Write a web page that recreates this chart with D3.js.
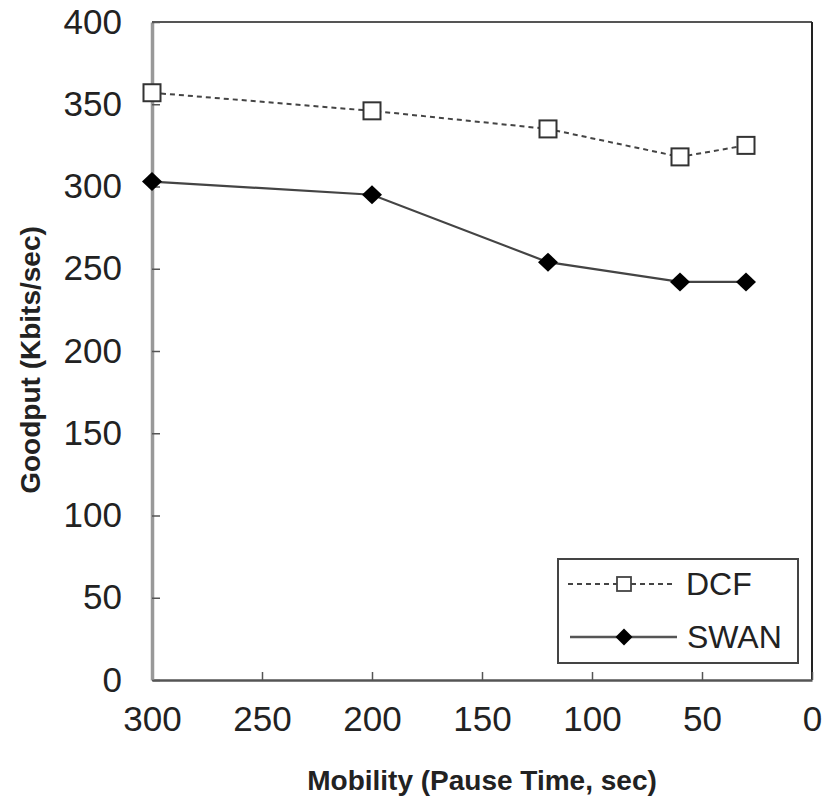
<!DOCTYPE html>
<html><head><meta charset="utf-8">
<script src="https://cdn.jsdelivr.net/npm/d3@7"></script>
<style>body{margin:0;background:#fff}svg{display:block}</style>
</head><body><svg id="c" width="827" height="799"></svg>
<script>
const pauseTimes = [300, 200, 120, 60, 30];
const dcfValues = [357, 346, 335, 318, 325];
const swanValues = [303, 295, 254, 242, 242];
const xTicks = [300, 250, 200, 150, 100, 50, 0];
const yTicks = [0, 50, 100, 150, 200, 250, 300, 350, 400];
const seriesNames = ["DCF", "SWAN"];

const svg = d3.select("#c");
const L = 152, R = 812, T = 22, B = 680;
const x = d3.scaleLinear().domain([300, 0]).range([L, R]);
const y = d3.scaleLinear().domain([0, 400]).range([B, T]);
const font = "Liberation Sans, Arial, sans-serif";

// frame
svg.append("line").attr("x1", L).attr("x2", R).attr("y1", T).attr("y2", T).attr("stroke", "#555").attr("stroke-width", 2);
svg.append("line").attr("x1", R).attr("x2", R).attr("y1", T).attr("y2", B).attr("stroke", "#222").attr("stroke-width", 2);

// x axis
const xAxis = svg.append("g").attr("transform", `translate(0,${B})`)
  .call(d3.axisBottom(x).tickValues(xTicks).tickSize(-8).tickPadding(26).tickSizeOuter(0));
xAxis.select(".domain").attr("stroke", "#555").attr("stroke-width", 2.5);
xAxis.selectAll(".tick line").attr("stroke", "#555").attr("stroke-width", 1.5);
xAxis.selectAll(".tick text").attr("font-family", font).attr("font-size", 35).attr("fill", "#222").attr("dy", "0.71em");

// y axis
const yAxis = svg.append("g").attr("transform", `translate(${L},0)`)
  .call(d3.axisLeft(y).tickValues(yTicks).tickSize(-8).tickPadding(30).tickSizeOuter(0));
yAxis.select(".domain").attr("stroke", "#999").attr("stroke-width", 3.5);
yAxis.selectAll(".tick line").attr("stroke", "#555").attr("stroke-width", 1.5);
yAxis.selectAll(".tick text").attr("font-family", font).attr("font-size", 35).attr("fill", "#222");

// titles
svg.append("text").attr("x", (L + R) / 2).attr("y", 790).attr("text-anchor", "middle")
  .attr("font-family", font).attr("font-weight", "bold").attr("font-size", 28).attr("fill", "#222")
  .text("Mobility (Pause Time, sec)");
svg.append("text").attr("transform", "translate(40,360) rotate(-90)").attr("text-anchor", "middle")
  .attr("font-family", font).attr("font-weight", "bold").attr("font-size", 28).attr("fill", "#222")
  .text("Goodput (Kbits/sec)");

const line = d3.line().x(d => x(d[0])).y(d => y(d[1]));
const dcf = pauseTimes.map((p, i) => [p, dcfValues[i]]);
const swan = pauseTimes.map((p, i) => [p, swanValues[i]]);

svg.append("path").datum(dcf).attr("d", line).attr("fill", "none").attr("stroke", "#444")
  .attr("stroke-width", 2).attr("stroke-dasharray", "5,4");
svg.append("path").datum(swan).attr("d", line).attr("fill", "none").attr("stroke", "#444")
  .attr("stroke-width", 2.2);

const sq = 17;
svg.selectAll(".sq").data(dcf).enter().append("rect")
  .attr("x", d => x(d[0]) - sq / 2).attr("y", d => y(d[1]) - sq / 2)
  .attr("width", sq).attr("height", sq).attr("fill", "#fff").attr("stroke", "#333").attr("stroke-width", 2);
const diamond = (cx, cy, w, h) => `M${cx},${cy - h / 2}L${cx + w / 2},${cy}L${cx},${cy + h / 2}L${cx - w / 2},${cy}Z`;
svg.selectAll(".dm").data(swan).enter().append("path")
  .attr("d", d => diamond(x(d[0]), y(d[1]), 20, 19)).attr("fill", "#000");

// legend
const lg = svg.append("g");
lg.append("rect").attr("x", 558).attr("y", 559).attr("width", 240).attr("height", 104)
  .attr("fill", "#fff").attr("stroke", "#444").attr("stroke-width", 2);
lg.append("line").attr("x1", 568).attr("x2", 673).attr("y1", 584).attr("y2", 584)
  .attr("stroke", "#444").attr("stroke-width", 2).attr("stroke-dasharray", "5,4");
lg.append("rect").attr("x", 617).attr("y", 577).attr("width", 14).attr("height", 14)
  .attr("fill", "#fff").attr("stroke", "#444").attr("stroke-width", 1.8);
lg.append("line").attr("x1", 570).attr("x2", 677).attr("y1", 637).attr("y2", 637)
  .attr("stroke", "#555").attr("stroke-width", 2.5);
lg.append("path").attr("d", diamond(624, 637, 17, 17)).attr("fill", "#000");
lg.append("text").attr("x", 686).attr("y", 595).attr("font-family", font).attr("font-size", 32).attr("fill", "#222").text(seriesNames[0]);
lg.append("text").attr("x", 687).attr("y", 648).attr("font-family", font).attr("font-size", 32).attr("fill", "#222").text(seriesNames[1]);
</script></body></html>
